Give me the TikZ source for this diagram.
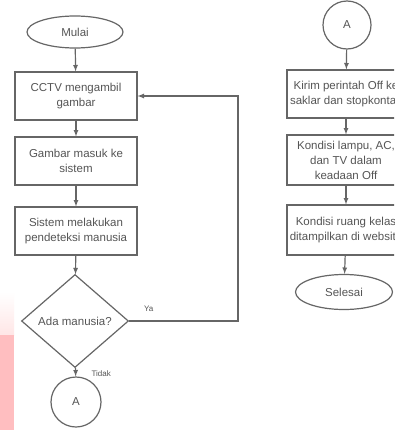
\documentclass[tikz,border=0pt]{standalone}
\usepackage{fontspec}
\setmainfont{Liberation Sans}
\usetikzlibrary{shapes.geometric}
\definecolor{inkgray}{HTML}{555555}
\definecolor{linegray}{HTML}{666666}
\definecolor{scanpink}{HTML}{FFBEC0}
\definecolor{palepink}{HTML}{FFE6E6}

\begin{document}
\begin{tikzpicture}[x=1pt,y=-1pt,
    every node/.style={text=inkgray,font=\fontsize{11.5}{15}\selectfont},
    proc/.style={draw=linegray,line width=1.2pt,rectangle,align=center,minimum width=122pt,minimum height=48pt,inner sep=1pt},
    term/.style={draw=linegray,line width=1.2pt,ellipse,minimum width=96pt,minimum height=32pt,inner sep=0pt},
    conn/.style={draw=linegray,line width=1.2pt,circle,minimum size=50pt,inner sep=0pt},
    dec/.style={draw=linegray,line width=1.2pt,diamond,aspect=1.15,minimum width=107pt,minimum height=93pt,inner sep=0pt},
    arr/.style={draw=linegray,line width=1.2pt,-latex},
    lbl/.style={font=\fontsize{8}{9}\selectfont}]
    \clip (0,0) rectangle (394,439);
    \useasboundingbox (0,0) rectangle (394,439);
    \fill[white] (0,0) rectangle (394,439);
    % scan smear on the left margin
    \shade[top color=white,bottom color=palepink] (0,292) rectangle (14,335);
    \fill[scanpink] (0,335) rectangle (14,430);

    % left column
    \draw (75,32)   node[term] (mulai) {Mulai};
    \draw (76,96)   node[proc] (cctv) {CCTV mengambil\\gambar};
    \draw (76,161)  node[proc] (gambar) {Gambar masuk ke\\sistem};
    \draw (76,231)  node[proc] (deteksi) {Sistem melakukan\\pendeteksi manusia};
    \draw (75,321)  node[dec] (ada) {Ada manusia?};
    \draw (76,402)  node[conn] (ka) {A};
    \coordinate (balik) at (238,321);

    % right column
    \draw (347,25)  node[conn,minimum size=48pt] (kb) {A};
    \draw (346,94)  node[proc,minimum width=118pt] (kirim) {Kirim perintah Off ke\\saklar dan stopkontak};
    \draw (346,160) node[proc,minimum width=118pt,minimum height=50pt] (kondisi) {Kondisi lampu, AC,\\dan TV  dalam\\keadaan Off};
    \draw (346,230) node[proc,minimum width=118pt,minimum height=50pt] (ruang) {Kondisi ruang kelas\\ditampilkan di website};
    \draw (344,292) node[term,minimum width=97pt,minimum height=35pt] (selesai) {Selesai};

    \draw[arr] (mulai) -- (cctv);
    \draw[arr] (cctv) -- (gambar);
    \draw[arr] (gambar) -- (deteksi);
    \draw[arr] (deteksi) -- (ada);
    \draw[arr] (ada) -- (ka) node[lbl,pos=0.7,right=12pt] {Tidak};
    \draw[arr] (ada.east) -- (balik) node[lbl,pos=0.18,above=5pt] {Ya} |- (cctv.east);
    \draw[arr] (kb) -- (kirim);
    \draw[arr] (kirim) -- (kondisi);
    \draw[arr] (kondisi) -- (ruang);
    \draw[arr] (ruang) -- (selesai);
\end{tikzpicture}
\end{document}
